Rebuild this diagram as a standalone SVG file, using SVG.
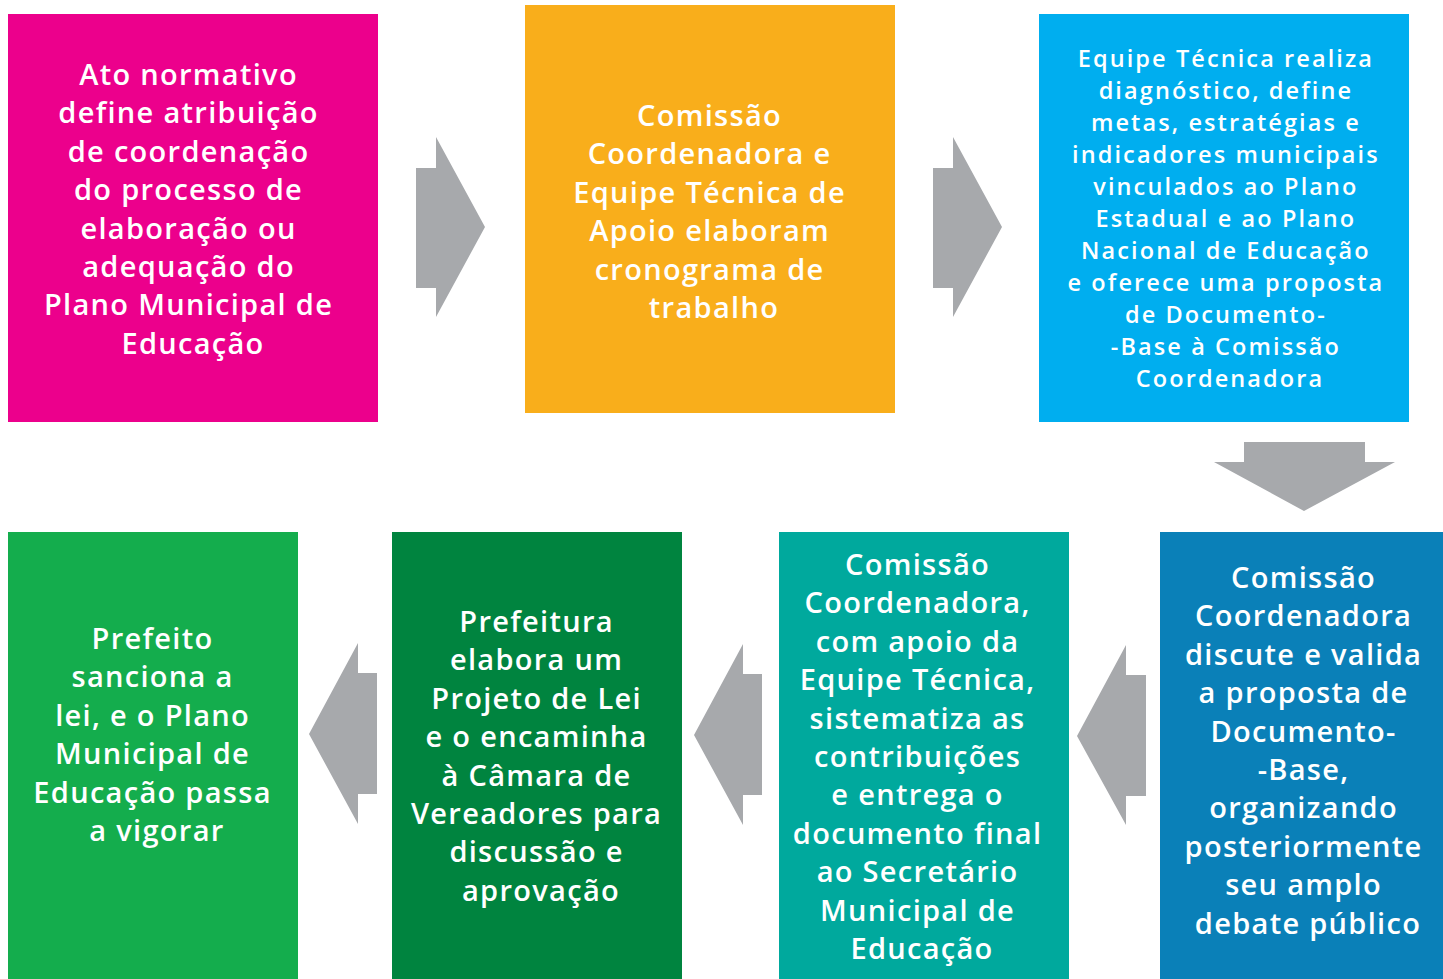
<svg xmlns="http://www.w3.org/2000/svg" width="1443" height="979" viewBox="0 0 1443 979">
<style>
.t{font-family:"Open Sans","Lato","DejaVu Sans",sans-serif;font-weight:600;fill:#ffffff;text-anchor:middle}
.big{font-size:29px;letter-spacing:1.3px}
.small{font-size:23.5px;letter-spacing:2.1px}
.arrow{fill:#A7A9AC}
</style>
<rect width="1443" height="979" fill="#ffffff"/>
<g id="n1">
<rect x="8" y="14" width="370" height="408" fill="#EC008C"/>
<text class="t big" x="193" y="85">
<tspan x="193" dy="0">Ato normativo</tspan>
<tspan x="193" dy="38.4">define atribuição</tspan>
<tspan x="193" dy="38.4">de coordenação</tspan>
<tspan x="193" dy="38.4">do processo de</tspan>
<tspan x="193" dy="38.4">elaboração ou</tspan>
<tspan x="193" dy="38.4">adequação do</tspan>
<tspan x="193" dy="38.4">Plano Municipal de</tspan>
<tspan x="193" dy="38.4">Educação</tspan>
</text>
</g>
<g id="n2">
<rect x="525" y="5" width="370" height="408" fill="#F9AE1B"/>
<text class="t big" x="714" y="126">
<tspan x="714" dy="0">Comissão</tspan>
<tspan x="714" dy="38.4">Coordenadora e</tspan>
<tspan x="714" dy="38.4">Equipe Técnica de</tspan>
<tspan x="714" dy="38.4">Apoio elaboram</tspan>
<tspan x="714" dy="38.4">cronograma de</tspan>
<tspan x="714" dy="38.4">trabalho</tspan>
</text>
</g>
<g id="n3">
<rect x="1039" y="14" width="370" height="408" fill="#00AEEF"/>
<text class="t small" x="1230" y="67">
<tspan x="1230" dy="0">Equipe Técnica realiza</tspan>
<tspan x="1230" dy="32">diagnóstico, define</tspan>
<tspan x="1230" dy="32">metas, estratégias e</tspan>
<tspan x="1230" dy="32">indicadores municipais</tspan>
<tspan x="1230" dy="32">vinculados ao Plano</tspan>
<tspan x="1230" dy="32">Estadual e ao Plano</tspan>
<tspan x="1230" dy="32">Nacional de Educação</tspan>
<tspan x="1230" dy="32">e oferece uma proposta</tspan>
<tspan x="1230" dy="32">de Documento-</tspan>
<tspan x="1230" dy="32">-Base à Comissão</tspan>
<tspan x="1230" dy="32">Coordenadora</tspan>
</text>
</g>
<g id="n4">
<rect x="1160" y="532" width="283" height="447" fill="#0A80B8"/>
<text class="t big" x="1308" y="588">
<tspan x="1308" dy="0">Comissão</tspan>
<tspan x="1308" dy="38.4">Coordenadora</tspan>
<tspan x="1308" dy="38.4">discute e valida</tspan>
<tspan x="1308" dy="38.4">a proposta de</tspan>
<tspan x="1308" dy="38.4">Documento-</tspan>
<tspan x="1308" dy="38.4">-Base,</tspan>
<tspan x="1308" dy="38.4">organizando</tspan>
<tspan x="1308" dy="38.4">posteriormente</tspan>
<tspan x="1308" dy="38.4">seu amplo</tspan>
<tspan x="1308" dy="38.4">debate público</tspan>
</text>
</g>
<g id="n5">
<rect x="779" y="532" width="290" height="447" fill="#00A99D"/>
<text class="t big" x="922" y="575">
<tspan x="922" dy="0">Comissão</tspan>
<tspan x="922" dy="38.4">Coordenadora,</tspan>
<tspan x="922" dy="38.4">com apoio da</tspan>
<tspan x="922" dy="38.4">Equipe Técnica,</tspan>
<tspan x="922" dy="38.4">sistematiza as</tspan>
<tspan x="922" dy="38.4">contribuições</tspan>
<tspan x="922" dy="38.4">e entrega o</tspan>
<tspan x="922" dy="38.4">documento final</tspan>
<tspan x="922" dy="38.4">ao Secretário</tspan>
<tspan x="922" dy="38.4">Municipal de</tspan>
<tspan x="922" dy="38.4">Educação</tspan>
</text>
</g>
<g id="n6">
<rect x="392" y="532" width="290" height="447" fill="#00843F"/>
<text class="t big" x="541" y="632">
<tspan x="541" dy="0">Prefeitura</tspan>
<tspan x="541" dy="38.4">elabora um</tspan>
<tspan x="541" dy="38.4">Projeto de Lei</tspan>
<tspan x="541" dy="38.4">e o encaminha</tspan>
<tspan x="541" dy="38.4">à Câmara de</tspan>
<tspan x="541" dy="38.4">Vereadores para</tspan>
<tspan x="541" dy="38.4">discussão e</tspan>
<tspan x="541" dy="38.4">aprovação</tspan>
</text>
</g>
<g id="n7">
<rect x="8" y="532" width="290" height="447" fill="#14AD4D"/>
<text class="t big" x="157" y="649">
<tspan x="157" dy="0">Prefeito</tspan>
<tspan x="157" dy="38.4">sanciona a</tspan>
<tspan x="157" dy="38.4">lei, e o Plano</tspan>
<tspan x="157" dy="38.4">Municipal de</tspan>
<tspan x="157" dy="38.4">Educação passa</tspan>
<tspan x="157" dy="38.4">a vigorar</tspan>
</text>
</g>
<g id="connectors">
<polygon class="arrow" points="416,168 436,168 436,137 485,227 436,317 436,288 416,288"/>
<polygon class="arrow" points="933,168 953,168 953,137 1002,227 953,317 953,288 933,288"/>
<polygon class="arrow" points="1244,442 1365,442 1365,462 1395,462 1304,511 1214,462 1244,462"/>
<polygon class="arrow" points="377,673 358,673 358,643 309,734 358,824 358,794 377,794"/>
<polygon class="arrow" points="762,674 743,674 743,644 694,735 743,825 743,795 762,795"/>
<polygon class="arrow" points="1146,675 1126,675 1126,645 1077,736 1126,825 1126,796 1146,796"/>
</g>
</svg>
